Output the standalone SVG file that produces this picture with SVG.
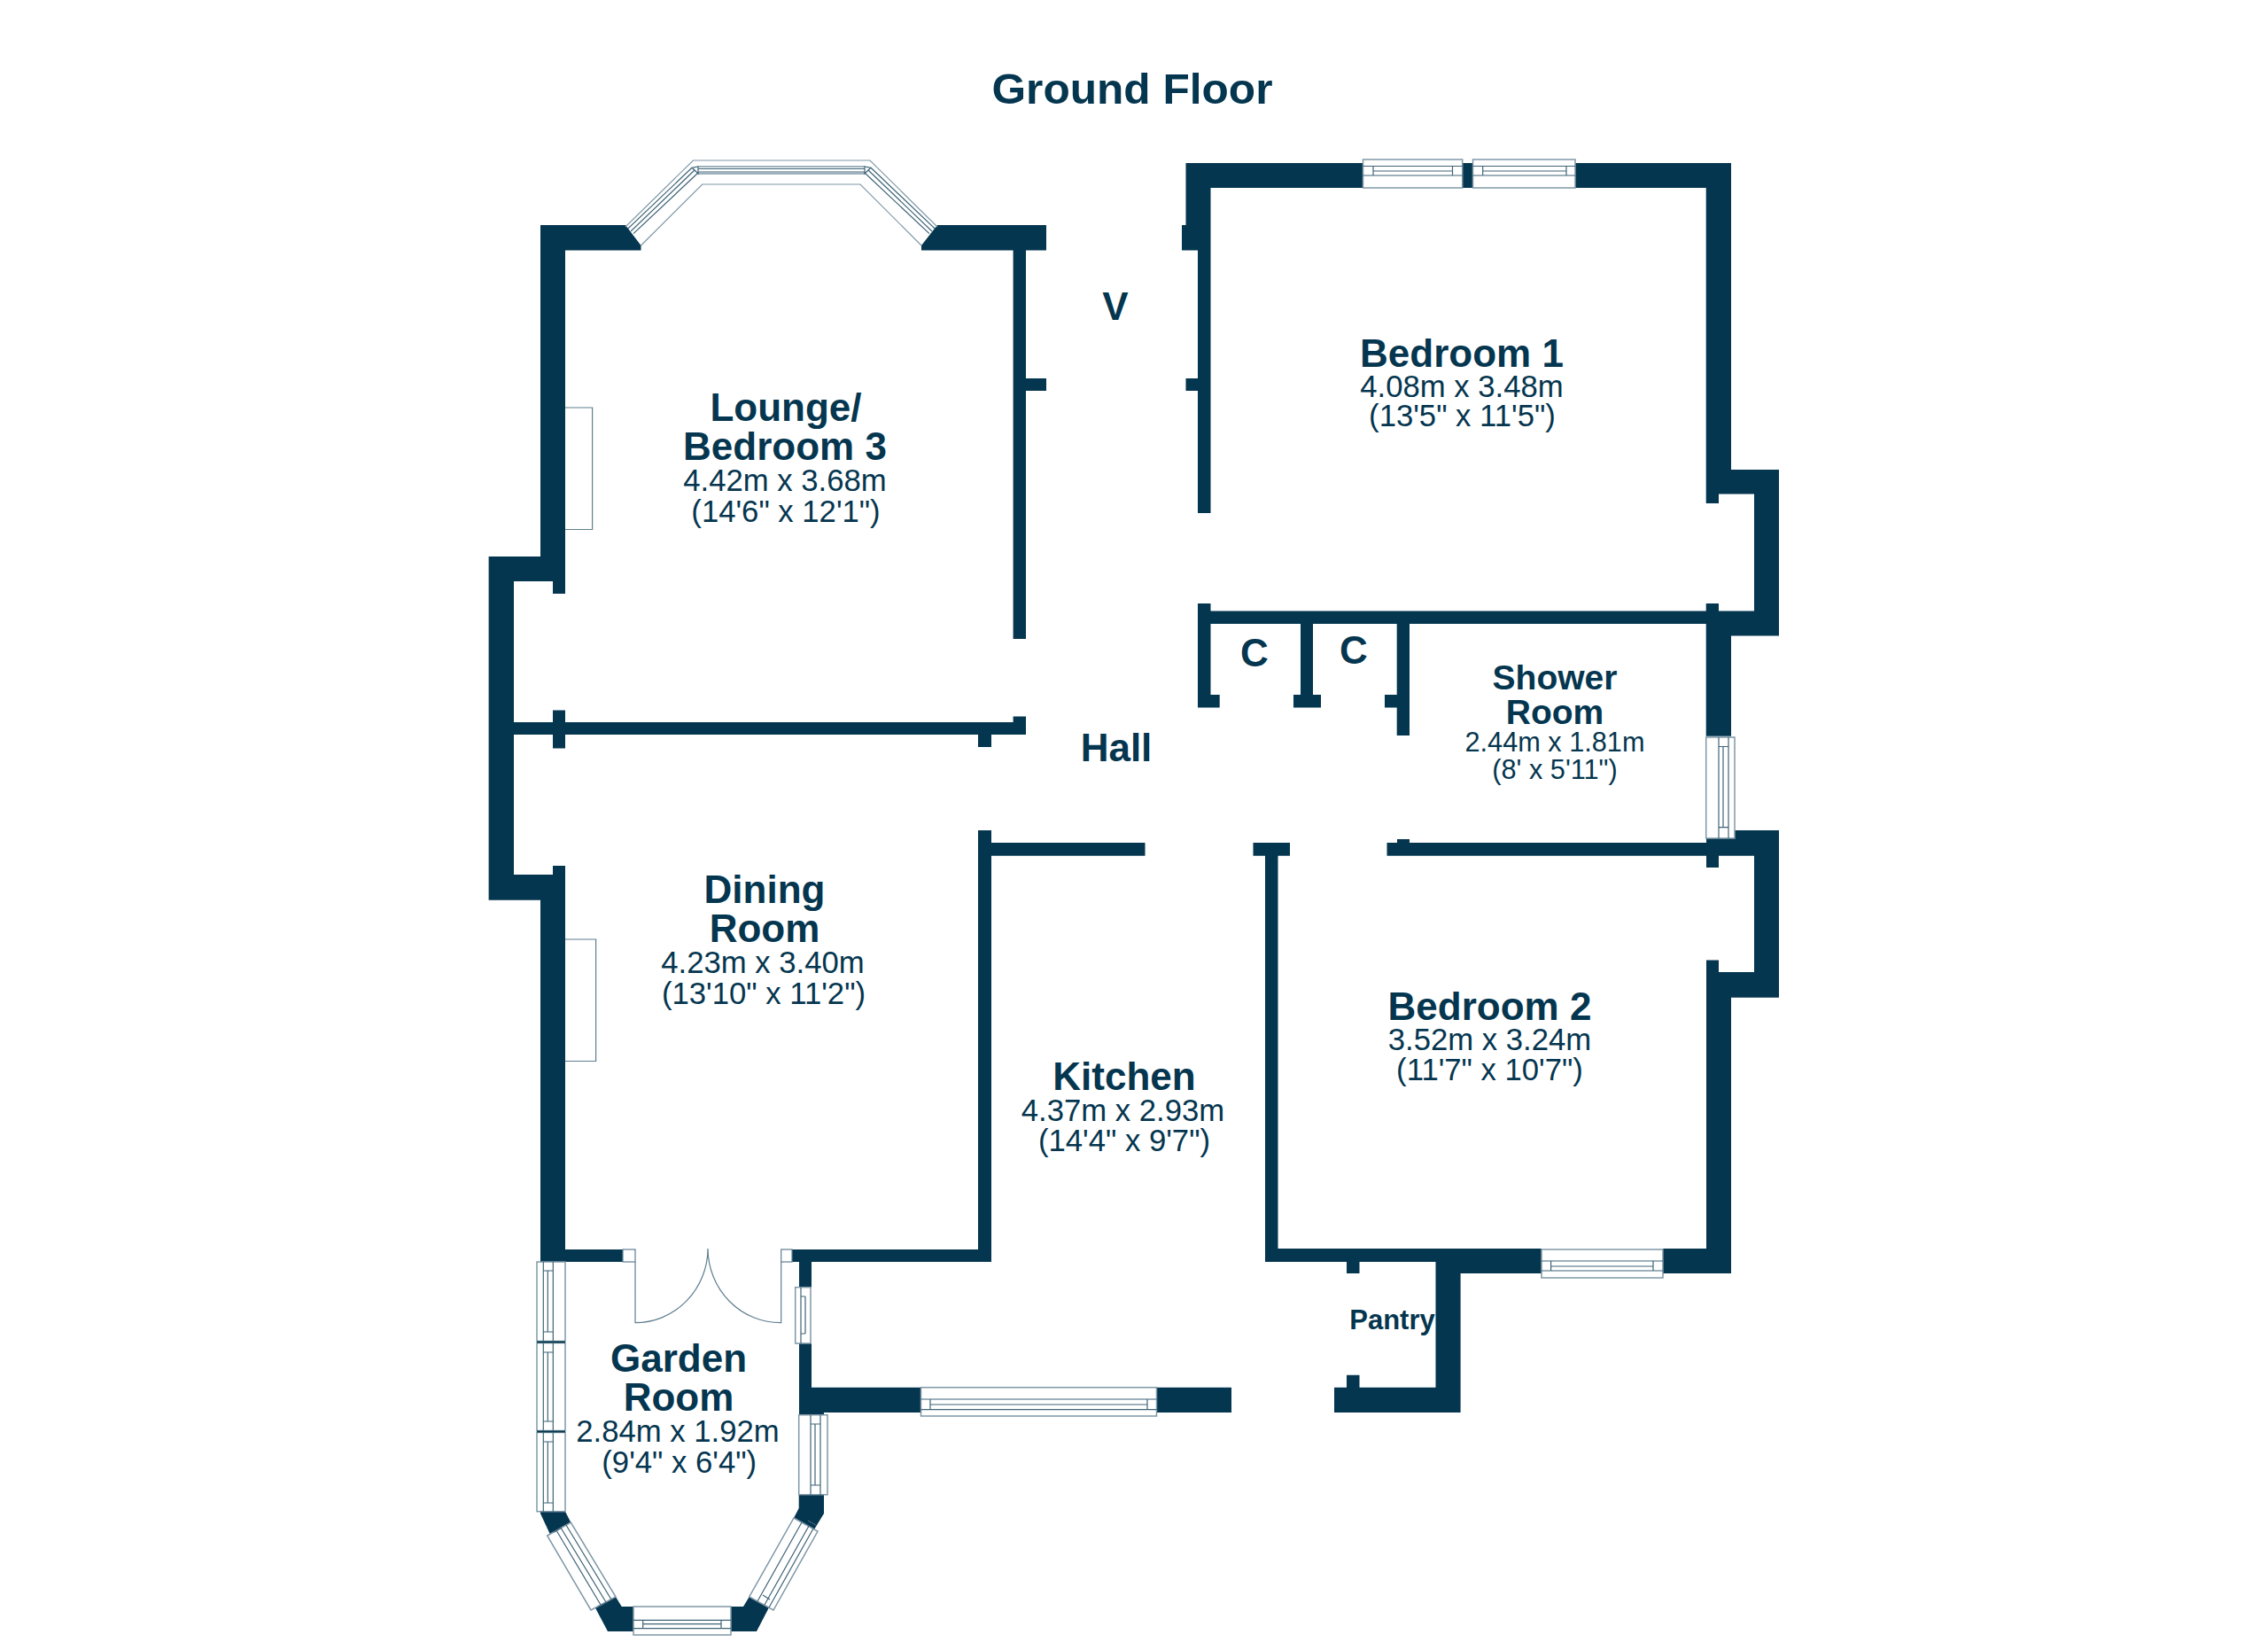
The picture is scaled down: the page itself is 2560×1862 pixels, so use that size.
<svg xmlns="http://www.w3.org/2000/svg" width="2560" height="1862" viewBox="0 0 2560 1862">
<style>
text{font-family:"Liberation Sans",Arial,sans-serif;fill:#05364f;text-anchor:middle}
.n{font-weight:700;font-size:44px}
.s{font-weight:700;font-size:39px}
.d{font-size:34.7px}
.e{font-size:30.7px}
.w{fill:#05364f}
.o{fill:#fff;stroke:#7f98a6;stroke-width:1.5}
.l{fill:none;stroke:#3f6478;stroke-width:1.2}
.f{fill:#fff;stroke:#5f7e90;stroke-width:1.2}
</style>
<rect width="2560" height="1862" fill="#fff"/>
<text id="title" x="1278" y="116.7" font-weight="700" font-size="49" textLength="317" lengthAdjust="spacingAndGlyphs">Ground Floor</text>
<g id="walls" class="w">
<path d="M610 254H706L723.5 277V282.5H638V670H624V656H580V987H624V977H638V1424H610V1015.7H551.6V628H610Z"/>
<path d="M638 1410H703V1424H638Z"/>
<path d="M1058 254H1181V282.5H1158V721H1143.6V282.5H1040V277Z"/>
<path d="M1158 427H1181V441H1158Z"/>
<path d="M580 815H624V801.4H638V815H1143.6V808.6H1158V829H1119V843H1104V829H638V844.6H624V829H580Z"/>
<path d="M1104 937H1119V951H1292.5V965.7H1119V1424H894V1410H1104Z"/>
<path d="M1338.5 184H1538.5V212H1366.5V579H1352V441H1338.5V427H1352V282.5H1334V254H1338.5Z"/>
<path d="M1651 184H1662.5V212H1651Z"/>
<path d="M1778 184H1954V530H2008V717.5H1954V830.7H1925.7V704H1591V830H1576.7V798.6H1563V784H1576.7V704H1482V784H1491V798.6H1460V784H1468V704H1366.5V784H1376.7V798.6H1352V681H1366.5V689.6H1925.7V681H1940V689.6H1980V557.5H1940V568H1925.7V212H1778Z"/>
<path d="M1958 937H2008V1125.7H1954V1437H1877V1409H1926V1083.6H1940V1097H1980V965.7H1940V979H1926V965.7H1565.5V951H1577V947H1591V951H1926V946H1958Z"/>
<path d="M1414.5 951H1456V965.7H1442.5V1409H1740V1437H1648.6V1594H1506V1565.7H1520V1551.7H1534.5V1565.7H1620.5V1424H1534.5V1437H1520V1424H1428V965.7H1414.5Z"/>
<path d="M902 1424H916V1452.7H902Z"/>
<path d="M902 1516H916V1565.7H1040V1594H930V1596.7H902Z"/>
<path d="M1305.5 1565.7H1390V1594H1305.5Z"/>
<path d="M901.7 1686.7H930V1708L919 1726L896 1713L901.7 1702Z"/>
<path d="M845.7 1802L868 1814L854 1841H825V1813H839Z"/>
<path d="M695 1802L701.7 1813H715V1841H686L671.7 1814Z"/>
<path d="M610 1705.7H638L644.3 1718L620.7 1731L610 1708Z"/>
</g>
<g id="bay-window-lounge">
<path class="l" style="stroke:#7f98a6" d="M706 256L782.4 181H982L1058 256"/>
<path class="l" style="stroke:#7f98a6" d="M723.5 277L792.7 208H971L1040 277"/>
<path class="l" d="M708.8 258L781 189.3 M712 261L784 192 M715 263.6L788 195 M1055.2 258L983 189.3 M1052 261L980 192 M1049 263.6L976 195 M788 188H976 M788 190.5H976 M788 194H976 M788 196H976"/>
<path class="l" d="M781 189.3L788 188V196L784 192Z M983 189.3L976 188V196L980 192Z"/>
</g>
<g id="window-bedroom1">
<rect class="o" x="1538.5" y="180" width="112.2" height="32"/>
<rect class="o" x="1662.5" y="180" width="115.5" height="32"/>
<path class="l" d="M1538.5 187.5H1650.7 M1538.5 198H1650.7 M1550 193H1639.5 M1550 187.5V198 M1639.5 187.5V198 M1662.5 187.5H1778 M1662.5 198H1778 M1673.7 193H1768 M1673.7 187.5V198 M1768 187.5V198"/>
</g>
<g id="window-shower">
<rect class="o" x="1925.7" y="832" width="32.3" height="114"/>
<path class="l" d="M1940 832V946 M1951 832V946 M1945 842.5V933.6 M1940 842.5H1951 M1940 933.6H1951"/>
</g>
<g id="window-bedroom2">
<rect class="o" x="1740" y="1410" width="137" height="32"/>
<path class="l" d="M1740 1423H1877 M1740 1434H1877 M1750.6 1429H1866 M1750.6 1423V1434 M1866 1423V1434"/>
</g>
<g id="window-kitchen">
<rect class="o" x="1039.5" y="1565.7" width="266" height="32.3"/>
<path class="l" d="M1039.5 1579H1305.5 M1039.5 1590.7H1305.5 M1050 1585H1295 M1050 1579V1590.7 M1295 1579V1590.7"/>
</g>
<g id="window-kitchen-side">
<rect class="o" x="897.7" y="1452.7" width="17.3" height="63.3"/>
<path class="l" d="M904 1452.7V1516 M909 1463V1505 M904 1463H909 M904 1505H909"/>
</g>
<g id="window-garden-west">
<rect class="o" x="606" y="1424" width="32" height="89.5"/>
<rect class="o" x="606" y="1515.5" width="32" height="99"/>
<rect class="o" x="606" y="1616.5" width="32" height="89.2"/>
<path class="w" d="M606 1513.5H638V1515.5H606Z M606 1614.5H638V1616.5H606Z"/>
<path class="l" d="M624.3 1424V1513 M613.3 1424V1513 M618.3 1434V1503 M613.3 1434H624.3 M613.3 1503H624.3 M624.3 1516V1614.5 M613.3 1516V1614.5 M618.3 1526V1604 M613.3 1526H624.3 M613.3 1604H624.3 M624.3 1617V1705.7 M613.3 1617V1705.7 M618.3 1627V1696 M613.3 1627H624.3 M613.3 1696H624.3"/>
</g>
<g id="window-garden-east">
<rect class="o" x="901.7" y="1596.7" width="32.3" height="90"/>
<path class="l" d="M915 1596.7V1686.7 M926 1596.7V1686.7 M920 1607V1676 M915 1607H926 M915 1676H926"/>
</g>
<g id="window-garden-se">
<path class="o" d="M896 1713L923 1728L873 1817L845.7 1802Z"/>
<path class="l" d="M905 1718L855 1807 M913 1722L863 1811 M918 1725L868 1814 M912 1716L921 1721 M861 1800L869 1805"/>
</g>
<g id="window-garden-sw">
<path class="o" d="M617.7 1733L644.3 1718L695 1802L667 1817Z"/>
<path class="l" d="M628 1727L678 1811 M633 1724L684 1808 M639 1721L690 1805 M625 1729L634 1724 M676 1813L685 1808"/>
</g>
<g id="window-garden-south">
<rect class="o" x="715" y="1813" width="110" height="32"/>
<path class="l" d="M715 1828.3H825 M715 1837.7H825 M725.7 1832.7H814 M725.7 1828.3V1837.7 M814 1828.3V1837.7"/>
</g>
<g id="fireplace-lounge"><path class="f" d="M638 460H668.6V597.5H638"/></g>
<g id="fireplace-dining"><path class="f" d="M638 1060H672.6V1197.5H638"/></g>
<g id="garden-doors">
<rect class="f" x="703" y="1410" width="14" height="14"/>
<rect class="f" x="881.7" y="1410" width="12.3" height="14"/>
<path class="l" style="stroke:#5f7e90" d="M717 1424V1492.7A82 84 0 0 0 799 1409A82 84 0 0 0 881.7 1492.7V1424"/>
</g>
<g id="room-lounge">
<text class="n" x="887" y="475">Lounge/</text>
<text class="n" x="886" y="519">Bedroom 3</text>
<text class="d" x="886" y="554">4.42m x 3.68m</text>
<text class="d" x="887" y="589">(14'6" x 12'1")</text>
</g>
<g id="room-bedroom1">
<text class="n" x="1650" y="413.6">Bedroom 1</text>
<text class="d" x="1650" y="447.5">4.08m x 3.48m</text>
<text class="d" x="1650.5" y="481">(13'5" x 11'5")</text>
</g>
<g id="room-v"><text class="n" x="1259" y="361">V</text></g>
<g id="room-c1"><text class="n" x="1416" y="752">C</text></g>
<g id="room-c2"><text class="n" x="1528" y="749">C</text></g>
<g id="room-shower">
<text class="s" x="1755" y="777.5">Shower</text>
<text class="s" x="1755" y="816.8">Room</text>
<text class="e" x="1755" y="848">2.44m x 1.81m</text>
<text class="e" x="1755" y="879">(8' x 5'11")</text>
</g>
<g id="room-hall"><text class="n" x="1260" y="858.6">Hall</text></g>
<g id="room-dining">
<text class="n" x="863" y="1018.6">Dining</text>
<text class="n" x="863" y="1063">Room</text>
<text class="d" x="861" y="1098">4.23m x 3.40m</text>
<text class="d" x="862" y="1132.5">(13'10" x 11'2")</text>
</g>
<g id="room-bedroom2">
<text class="n" x="1681.5" y="1151">Bedroom 2</text>
<text class="d" x="1681.5" y="1185">3.52m x 3.24m</text>
<text class="d" x="1681.5" y="1219">(11'7" x 10'7")</text>
</g>
<g id="room-kitchen">
<text class="n" x="1269" y="1230">Kitchen</text>
<text class="d" x="1267.5" y="1265">4.37m x 2.93m</text>
<text class="d" x="1269" y="1299">(14'4" x 9'7")</text>
</g>
<g id="room-pantry"><text x="1571.5" y="1499.5" font-weight="700" font-size="31">Pantry</text></g>
<g id="room-garden">
<text class="n" x="766" y="1547.7">Garden</text>
<text class="n" x="766" y="1592">Room</text>
<text class="d" x="765" y="1627">2.84m x 1.92m</text>
<text class="d" x="766.7" y="1661.7">(9'4" x 6'4")</text>
</g>
</svg>
